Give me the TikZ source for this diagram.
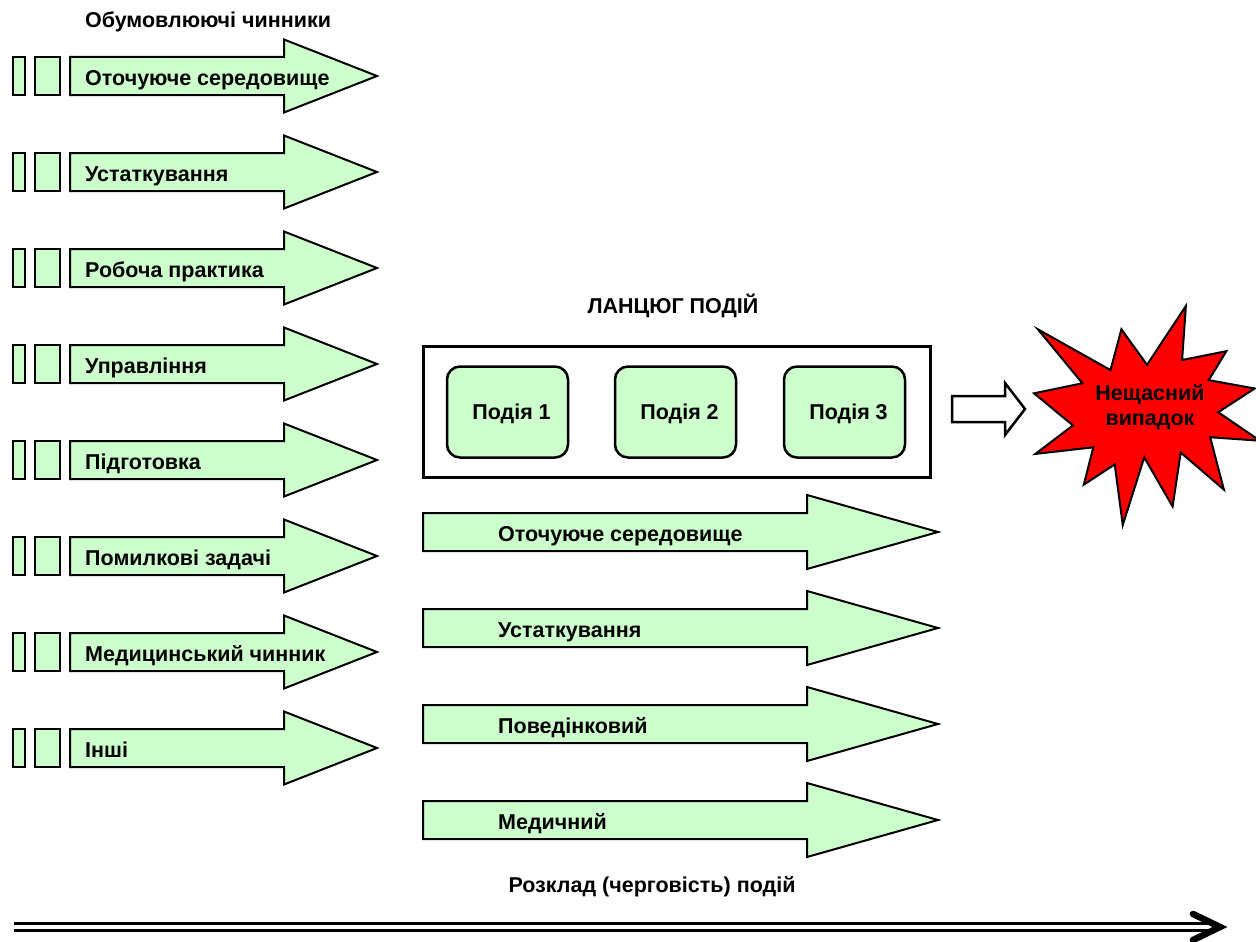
\documentclass[tikz,border=0pt]{standalone}
\usepackage{fontspec}
\setmainfont{Liberation Sans}
\definecolor{lgreen}{HTML}{CCFFCC}
\begin{document}
\begin{tikzpicture}[x=1pt,y=-1pt,
  txt/.style={font=\fontsize{21.5}{25}\selectfont\bfseries, inner sep=0pt},
  arrowshape/.style={draw=black, fill=lgreen, line width=2pt, line join=miter},
  smallbox/.style={draw=black, fill=lgreen, line width=2pt},
  eventbox/.style={draw=black, fill=lgreen, line width=2.5pt, rounded corners=13pt,
    minimum width=121pt, minimum height=91pt, inner sep=0pt, text depth=0pt,
    font=\fontsize{21.5}{25}\selectfont\bfseries},
  chainbox/.style={draw=black, line width=3pt, minimum width=507pt, minimum height=131pt, inner sep=0pt},
  hollow/.style={draw=black, fill=white, line width=2.5pt, line join=miter},
  burst/.style={draw=black, fill=red, line width=2pt, line join=miter},
  timeline/.style={draw=black, line width=3.2pt, double=white, double distance=4.5pt},
  chevron/.style={draw=black, line width=6.5pt, line cap=round, line join=miter}
]
\clip (0,0) rectangle (1256,942);
\fill[white] (0,0) rectangle (1256,942);

% title
\node[txt] (title) at (208,22) {Обумовлюючі чинники};

% left arrows
\foreach \c/\t [count=\i] in {76/Оточуюче середовище, 172/Устаткування, 268/Робоча практика,
  364/Управління, 460/Підготовка, 556/Помилкові задачі, 652/Медицинський чинник, 748/Інші}{
  \draw[smallbox] (13,\c-19) rectangle (25,\c+19);
  \draw[smallbox] (35,\c-19) rectangle (60,\c+19);
  \draw[arrowshape] (70,\c-19) -- (284,\c-19) -- (284,\c-36.5) -- (377,\c) -- (284,\c+36.5) -- (284,\c+19) -- (70,\c+19) -- cycle;
  \node[txt, anchor=base west] (la\i) at (85,\c+9) {\t};
}

% chain of events
\node[txt] (chaintitle) at (673,306) {ЛАНЦЮГ ПОДІЙ};
\node[chainbox] (chain) at (676.5,411.5) {};
\node[eventbox] (e1) at (507.5,412) {\hspace*{8pt}Подія 1};
\node[eventbox] (e2) at (675.5,412) {\hspace*{8pt}Подія 2};
\node[eventbox] (e3) at (844.5,412) {\hspace*{8pt}Подія 3};

% hollow arrow
\draw[hollow] (952,396) -- (1005,396) -- (1005,383) -- (1025,409) -- (1005,435) -- (1005,422) -- (952,422) -- cycle;

% explosion
\begin{scope}[shift={(1034,306)}, x=226pt, y=-219pt]
\draw[burst] (0.5,0.2685) -- (0.672,0) -- (0.6553,0.2465) -- (0.851,0.2063) -- (0.7732,0.3386)
 -- (0.9767,0.3767) -- (0.8151,0.4850) -- (1.0,0.6153) -- (0.7795,0.5992) -- (0.8401,0.8382)
 -- (0.6491,0.6693) -- (0.6133,0.9156) -- (0.4876,0.6914) -- (0.3928,1.0) -- (0.3572,0.7235)
 -- (0.2205,0.8156) -- (0.2624,0.6452) -- (0.00625,0.6753) -- (0.1723,0.5451) -- (0,0.3988)
 -- (0.2142,0.3527) -- (0.0171,0.1063) -- (0.3385,0.2926) -- (0.3867,0.1063) -- cycle;
\end{scope}
\node[txt, align=center] (accident) at (1150,407) {Нещасний\\[0pt]випадок};

% right arrows
\foreach \c/\t [count=\i] in {532/Оточуюче середовище, 628/Устаткування, 724/Поведінковий, 820/Медичний}{
  \draw[arrowshape] (423,\c-19) -- (807,\c-19) -- (807,\c-37) -- (938,\c) -- (807,\c+37) -- (807,\c+19) -- (423,\c+19) -- cycle;
  \node[txt, anchor=base west] (ra\i) at (498,\c+9) {\t};
}

% timeline
\node[txt] (timetitle) at (652,887) {Розклад (черговість) подій};
\coordinate (tstart) at (14,927);
\coordinate (tend) at (1214,927);
\coordinate (ttip) at (1220,927);
\coordinate (tarmA) at (1193,914);
\coordinate (tarmB) at (1193,940);
\draw[timeline] (tstart) -- (tend);
\draw[chevron] (tarmA) -- (ttip) -- (tarmB);
\end{tikzpicture}
\end{document}
